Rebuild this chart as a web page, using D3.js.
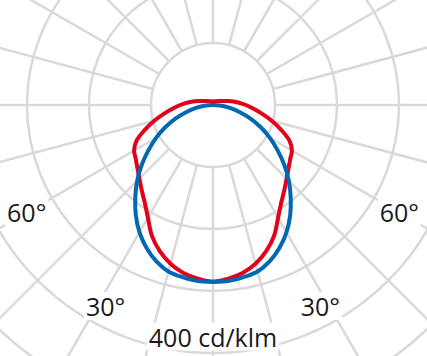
<!DOCTYPE html>
<html>
<head>
<meta charset="utf-8">
<script src="https://cdn.jsdelivr.net/npm/d3@7"></script>
<style>
  body { margin: 0; background: #fff; }
  svg { display: block; }
</style>
</head>
<body>
<svg id="chart" width="427" height="356"></svg>
<script>
// gamma angles (deg from nadir), values in cd/klm
var angles = [0, 5, 10, 15, 20, 25, 30, 35, 40, 45, 50, 55, 60, 65, 70, 75, 80, 85, 90,
              95, 100, 105, 110, 120, 130, 140, 150, 160, 170, 180];
var redValues = [285, 281, 275, 265, 251, 233, 210, 192, 179, 168, 159, 152, 147, 136, 117, 98, 80, 65, 53,
                 42, 33, 25, 19, 13, 10, 8, 7, 6, 6, 5];
var blueValues = [285, 285, 282, 278, 268, 254, 237, 217, 195, 173, 150, 127, 106, 85, 65, 45, 29, 14, 0,
                  0, 0, 0, 0, 0, 0, 0, 0, 0, 0, 0];

var rings = [100, 200, 300, 400, 500];
var spokes = d3.range(0, 360, 15);

var labelTexts = ['60°', '30°', '30°', '60°'];
var labelAngles = [-60, -28, 28, 60];
var labelValues = [347, 369, 369, 347];
var unitLabel = '400 cd/klm';
var unitValue = 375;

var width = 427, height = 356;
var cx = 213, cy = 105;

var svg = d3.select('#chart');
var r = d3.scaleLinear().domain([0, 500]).range([0, 310]);
var g = svg.append('g').attr('transform', 'translate(' + cx + ',' + cy + ')');

// polar helper, angle in deg from nadir (positive = right)
function pos(deg, v){
  var a = deg * Math.PI / 180;
  return [r(v) * Math.sin(a), r(v) * Math.cos(a)];
}

// grid
g.selectAll('circle.ring').data(rings)
  .enter().append('circle')
  .attr('class', 'ring')
  .attr('r', function(d){ return r(d); })
  .attr('fill', 'none')
  .attr('stroke', '#d9d9d9')
  .attr('stroke-width', 2.5);

g.selectAll('line.spoke').data(spokes)
  .enter().append('line')
  .attr('class', 'spoke')
  .attr('x1', function(d){ return pos(d, 100)[0]; })
  .attr('y1', function(d){ return pos(d, 100)[1]; })
  .attr('x2', function(d){ return pos(d, 700)[0]; })
  .attr('y2', function(d){ return pos(d, 700)[1]; })
  .attr('stroke', '#d9d9d9')
  .attr('stroke-width', 2.5);

// curves: right half then mirrored left half
function curvePoints(values){
  var pts = [];
  for(var i = angles.length - 1; i >= 0; i--){
    pts.push([Math.PI - angles[i] * Math.PI / 180, r(values[i])]);
  }
  for(var j = 1; j < angles.length - 1; j++){
    pts.push([Math.PI + angles[j] * Math.PI / 180, r(values[j])]);
  }
  // drop repeated points sitting on the centre
  return pts.filter(function(p, k){
    var prev = pts[(k - 1 + pts.length) % pts.length];
    return !(p[1] === 0 && prev[1] === 0);
  });
}

var line = d3.lineRadial()
  .angle(function(d){ return d[0]; })
  .radius(function(d){ return d[1]; })
  .curve(d3.curveCatmullRomClosed.alpha(0.5));

g.append('path')
  .attr('d', line(curvePoints(redValues)))
  .attr('fill', 'none')
  .attr('stroke', '#e2001a')
  .attr('stroke-width', 4);

g.append('path')
  .attr('d', line(curvePoints(blueValues)))
  .attr('fill', 'none')
  .attr('stroke', '#0068b3')
  .attr('stroke-width', 4);

// labels with white masks
var labels = labelTexts.map(function(t, i){
  return { text: t, p: pos(labelAngles[i], labelValues[i]) };
});
labels.push({ text: unitLabel, p: pos(0, unitValue) });

var lg = g.selectAll('g.label').data(labels)
  .enter().append('g')
  .attr('class', 'label')
  .attr('transform', function(d){ return 'translate(' + d.p[0] + ',' + d.p[1] + ')'; });

lg.append('rect').attr('fill', '#fff');
lg.append('text')
  .attr('text-anchor', 'middle')
  .attr('dy', '0.36em')
  .attr('font-family', '"Open Sans", "Noto Sans", sans-serif')
  .attr('font-size', 25)
  .attr('fill', '#1a1a1a')
  .text(function(d){ return d.text; });

lg.each(function(){
  var b = d3.select(this).select('text').node().getBBox();
  d3.select(this).select('rect')
    .attr('x', b.x - 2).attr('y', b.y + 3)
    .attr('width', b.width + 4).attr('height', b.height - 6);
});
</script>
</body>
</html>
